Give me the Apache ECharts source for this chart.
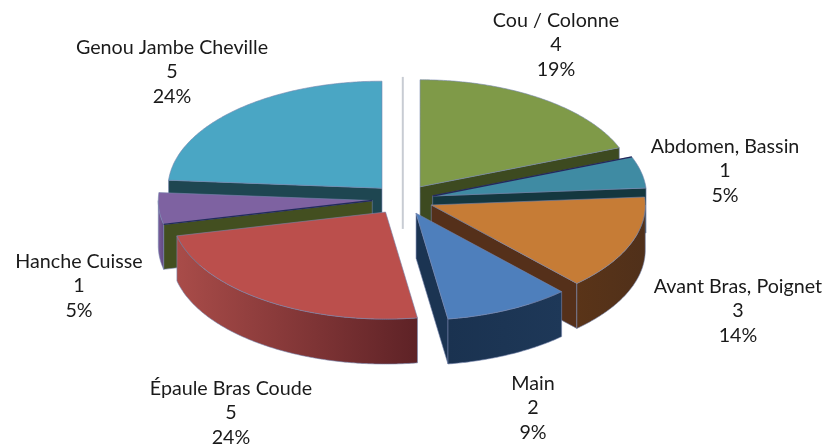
<!DOCTYPE html>
<html><head><meta charset="utf-8">
<style>html,body{margin:0;padding:0;background:#fff}#c{width:837px;height:446px}</style>
<script src="https://cdn.jsdelivr.net/npm/echarts@6/dist/echarts.min.js"></script>
</head><body><div id="c"></div>
<script>
// Data
const categories = ['Cou / Colonne','Abdomen, Bassin','Avant Bras, Poignet','Main','Épaule Bras Coude','Hanche Cuisse','Genou Jambe Cheville'];
const values = [4,1,3,2,5,1,5];
const percents = [19,5,14,9,24,5,24];
// Styles
const topColors  = ['#7f9a48','#3f8ba3','#c67c36','#4e7fbc','#bb4f4c','#7e62a1','#4aa6c4'];
const cutColors  = ['#3d4a20','#14373f','#55301a','#1b3452','#6b2a28','#434f20','#1e4651'];
const wallStops  = [
  ['#3d4a20','#3d4a20'],['#163a46','#163a46'],['#5a3418','#50301a'],['#1a3250','#1e3858'],
  ['#a94c49','#5e2226'],['#7a5e9c','#5f4880'],['#1e4651','#1e4651']];
const hairline = [false,true,false,false,false,true,false];
// Layout
const geo = {cx:402.8, cy:199.4, rx:214, ry:107, depth:45, explode:30.6};
const labelCentres = [[556,45],[725,171],[738,311],[533,408],[231,413],[79,286],[172,72]];
const FONT = '19.7px Lato, "Open Sans", sans-serif';
const EDGE = 'rgba(118,132,172,0.75)';

const total = values.reduce((a,b)=>a+b,0);
const spans = []; let acc = 0;
values.forEach(v=>{ const s=acc/total*Math.PI*2; acc+=v; spans.push([s,acc/total*Math.PI*2]); });

function slice(i){
  const [s,e] = spans[i], m=(s+e)/2;
  const ax = geo.cx + geo.explode*Math.sin(m);
  const ay = geo.cy - geo.explode/2*Math.cos(m);
  const pt = t=>[ax+geo.rx*Math.sin(t), ay-geo.ry*Math.cos(t)];
  const down = p=>[p[0],p[1]+geo.depth];
  const arc = (a,b)=>{const n=Math.max(2,Math.ceil((b-a)/0.01)),r=[];for(let k=0;k<=n;k++)r.push(pt(a+(b-a)*k/n));return r;};
  const kids = [];
  const poly = (points,fill,z,stroke)=>kids.push({type:'polygon',z2:z,shape:{points},style:{fill,stroke:stroke===undefined?EDGE:stroke,lineWidth:0.8}});
  const apex=[ax,ay], rank = -Math.cos(m)*100;
  if (Math.sin(s) < -1e-6) { const p=pt(s); poly([apex,p,down(p),down(apex)],cutColors[i],rank); }
  if (Math.cos(e+Math.PI/2) < -1e-6 && e<Math.PI*1.99) { const p=pt(e); poly([apex,p,down(p),down(apex)],cutColors[i],rank); }
  const a=Math.max(s,Math.PI/2), b=Math.min(e,Math.PI*1.5);
  if (b>a){
    const upper=arc(a,b), lower=upper.map(down).reverse();
    poly(upper.concat(lower),{type:'linear',x:0,y:0,x2:1,y2:0,colorStops:[{offset:0,color:wallStops[i][0]},{offset:1,color:wallStops[i][1]}]},rank+1);
  }
  poly([apex].concat(arc(s,e)),topColors[i],rank+2);
  if (hairline[i]) {
    const p = pt(s);
    kids.push({type:'line',z2:rank+3,shape:{x1:ax,y1:ay,x2:p[0],y2:p[1]},style:{stroke:'#232a5c',lineWidth:1.4}});
  }
  return kids;
}

const chart = echarts.init(document.getElementById('c'),null,{renderer:'canvas',width:837,height:446});
chart.setOption({
  animation:false,
  series:[
    {type:'custom',coordinateSystem:'none',silent:true,z:1,data:[0],
     renderItem(){return {type:'line',shape:{x1:geo.cx,y1:geo.cy-122.5,x2:geo.cx,y2:geo.cy+29.5},style:{stroke:'#c8ccd3',lineWidth:2}};}},
    {type:'custom',coordinateSystem:'none',silent:true,z:2,
     data:values.map((v,i)=>[i,v]),
     renderItem(params,api){
       const i=api.value(0);
       return {type:'group',children:slice(i)};
     }},
    {type:'custom',coordinateSystem:'none',silent:true,z:3,
     data:values.map((v,i)=>[i,v]),
     renderItem(params,api){
       const i=api.value(0);
       return {type:'text',style:{text:categories[i]+'\n'+api.value(1)+'\n'+percents[i]+'%',x:labelCentres[i][0],y:labelCentres[i][1],align:'center',verticalAlign:'middle',font:FONT,lineHeight:24.5,fill:'#1a1a1a'}};
     }}
  ]
});
</script></body></html>
